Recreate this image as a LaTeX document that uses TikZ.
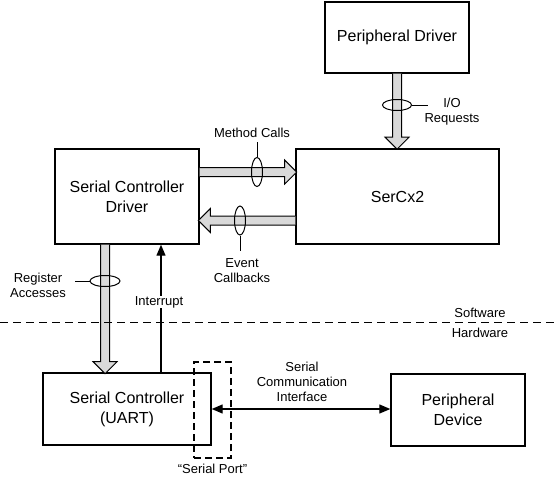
\documentclass[tikz,border=0pt]{standalone}
\usepackage{fontspec}
\setmainfont{Liberation Sans}
\usetikzlibrary{arrows.meta,shapes.geometric,calc,positioning}
\definecolor{fatgray}{RGB}{217,217,217}

% wide hollow arrow: start point, direction, length
\newcommand{\fatarrow}[3]{%
	\begin{scope}[shift={#1},rotate=#2]
		\draw[line width=1pt, fill=fatgray, line join=miter] (0,-4.5) -- (#3-12,-4.5) -- (#3-12,-12) -- (#3,0) -- (#3-12,12) -- (#3-12,4.5) -- (0,4.5);
	\end{scope}}

\begin{document}
\begin{tikzpicture}[x=1pt,y=-1pt,
		box/.style={draw, line width=1.4pt, align=center, inner sep=0, font=\fontsize{16}{20}\selectfont},
		lbl/.style={align=center, inner sep=1pt, font=\fontsize{13}{15}\selectfont},
		ring/.style={ellipse, draw, line width=1pt, inner sep=0},
		sig/.style={line width=1.3pt, >={Triangle[length=11pt,width=9pt]}}]
	\useasboundingbox (0,0) rectangle (554,485);
	\node[box, minimum width=144pt, minimum height=71pt] (pdrv) at (397,37.5) {Peripheral Driver};
	\node[box, minimum width=203pt, minimum height=95pt] (sercx) at (397.5,196.5) {SerCx2};
	\node[box, minimum width=144pt, minimum height=95pt] (scd) at (127,196.5) {Serial Controller\\Driver};
	\node[box, minimum width=168pt, minimum height=72pt] (uart) at (127,409) {Serial Controller\\(UART)};
	\node[box, minimum width=134pt, minimum height=72pt] (pdev) at (458,410) {Peripheral\\Device};
	\node[draw, line width=1.3pt, dash pattern=on 7pt off 4pt, minimum width=37pt, minimum height=96pt] (port) at (212.5,410) {};
	\node[lbl, below=4pt of port] (portlbl) {“Serial Port”};
	% fat arrows
	\fatarrow{($(scd.east)+(0,-24.5)$)}{0}{97}
	\fatarrow{($(sercx.west)+(0,24)$)}{180}{97}
	\fatarrow{(pdrv.south)}{-90}{75.5}
	\fatarrow{($(scd.south)+(-22,0)$)}{-90}{129}
	\node[ring, minimum width=11pt, minimum height=29pt] (mcring) at (257,172) {};
	\node[ring, minimum width=11pt, minimum height=29pt] (ecring) at (240,220.5) {};
	\node[ring, minimum width=29pt, minimum height=11pt] (ioring) at (397,105) {};
	\node[ring, minimum width=30pt, minimum height=11pt] (raring) at (105,281) {};
	\node[lbl] (mclbl) at (252,133) {Method Calls};
	\draw[line width=1pt] (mcring.north) -- ++(0,-15);
	\node[lbl] (eclbl) at (242,270.5) {Event\\Callbacks};
	\draw[line width=1pt] (ecring.south) -- ++(0,15);
	\node[lbl] (iolbl) at (452,111.5) {I/O\\Requests};
	\draw[line width=1pt] (ioring.east) -- ++(16,0);
	\node[lbl] (ralbl) at (38,285.5) {Register\\Accesses};
	\draw[line width=1pt] (raring.west) -- ++(-15,0);
	% interrupt and serial line
	\draw[sig, ->] ($(uart.north)+(34,0)$) coordinate (irqfoot) -- (irqfoot |- scd.south);
	\node[lbl, fill=white, inner sep=0.5pt] (irqlbl) at (159,302) {Interrupt};
	\draw[sig, <->] (uart.east) -- (uart.east -| pdev.west);
	\node[lbl] (scilbl) at (302,382) {Serial\\Communication\\Interface};
	% software / hardware boundary
	\coordinate (bndl) at (0,322.5);
	\coordinate (bndr) at (554,322.5);
	\draw[line width=1.2pt, dash pattern=on 8pt off 5pt] (bndl) -- (bndr);
	\node[lbl] (swlbl) at (480,313) {Software};
	\node[lbl] (hwlbl) at (480,333) {Hardware};
\end{tikzpicture}
\end{document}
